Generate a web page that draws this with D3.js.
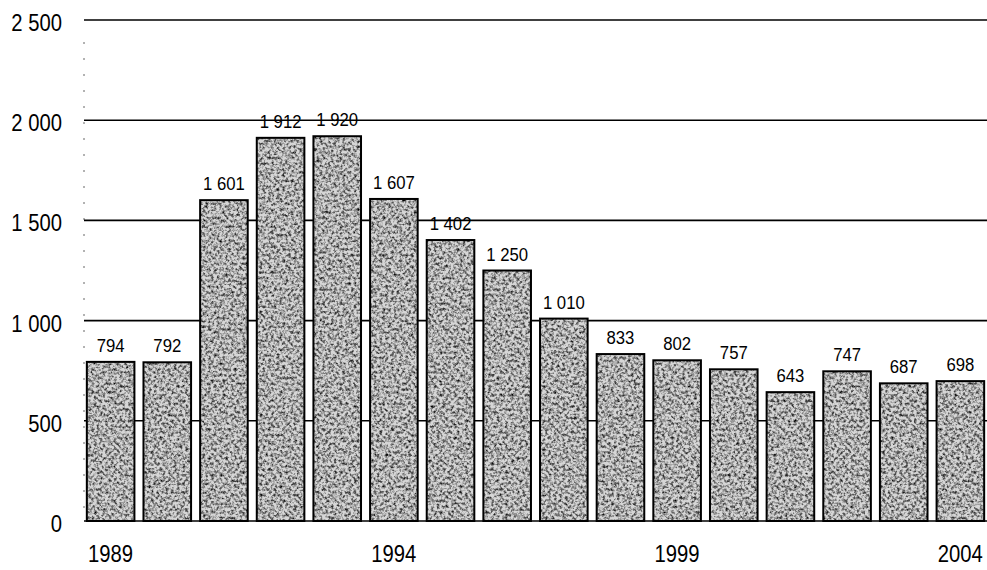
<!DOCTYPE html>
<html>
<head>
<meta charset="utf-8">
<script src="https://cdn.jsdelivr.net/npm/d3@7"></script>
<style>
  body { margin: 0; background: #fff; }
  text { font-family: "Liberation Sans", Arial, sans-serif; fill: #000; }
</style>
</head>
<body>
<div id="chart"></div>
<script>
"use strict"
// data
var years = ["1989","1990","1991","1992","1993","1994","1995","1996","1997","1998","1999","2000","2001","2002","2003","2004"];
var values = [794, 792, 1601, 1912, 1920, 1607, 1402, 1250, 1010, 833, 802, 757, 643, 747, 687, 698];
var yTicks = [0, 500, 1000, 1500, 2000, 2500];
var shownYears = ["1989","1994","1999","2004"];

function fmt(v) {
    // space as thousands separator
    return String(v).replace(/\B(?=(\d{3})+(?!\d))/g, " ");
}

var fullWidth = 987, fullHeight = 570;
var plotLeft = 84, plotRight = 987, plotTop = 20, plotBottom = 521;
var narrow = 0.88; // squeeze text a little, the original font is condensed

var svg = d3.select("#chart").append("svg")
    .attr("width", fullWidth).attr("height", fullHeight);

// grainy grey texture for the bars
var defs = svg.append("defs");
var filt = defs.append("filter").attr("id", "grain")
    .attr("x", 0).attr("y", 0).attr("width", "100%").attr("height", "100%");
filt.append("feTurbulence").attr("type", "fractalNoise")
    .attr("baseFrequency", 0.35).attr("numOctaves", 4).attr("seed", 7).attr("result", "noise");
filt.append("feColorMatrix").attr("in", "noise").attr("type", "matrix")
    .attr("values", "0 0 0 0 0  0 0 0 0 0  0 0 0 0 0  -2.0 0 0 0 1.2")
    .attr("result", "dots");
filt.append("feComposite").attr("in", "dots").attr("in2", "SourceGraphic").attr("operator", "in");

var x = d3.scaleBand().domain(years).range([plotLeft, plotRight]).paddingInner(0.16).paddingOuter(0.05);
var y = d3.scaleLinear().domain([0, 2500]).range([plotBottom, plotTop]);

// dotted left edge
svg.append("line")
    .attr("x1", plotLeft).attr("x2", plotLeft).attr("y1", y(2500) + 22).attr("y2", plotBottom)
    .attr("stroke", "#666").attr("stroke-width", 1).attr("stroke-dasharray", "2,14");

// gridlines
svg.append("g").selectAll("line").data(yTicks).enter().append("line")
    .attr("x1", plotLeft).attr("x2", plotRight)
    .attr("y1", d => y(d)).attr("y2", d => y(d))
    .attr("stroke", "#000").attr("stroke-width", 1.6);

// y labels
svg.append("g").selectAll("text").data(yTicks).enter().append("text")
    .attr("transform", d => "translate(62," + (y(d) + 11) + ") scale(" + narrow + ",1)")
    .attr("text-anchor", "end").attr("font-size", 23)
    .text(d => fmt(d));

var bars = svg.append("g");
bars.selectAll("rect.base").data(values).enter().append("rect")
    .attr("class", "base")
    .attr("x", (d, i) => x(years[i])).attr("width", x.bandwidth())
    .attr("y", d => y(d)).attr("height", d => y(0) - y(d))
    .attr("fill", "#d6d6d6");
bars.selectAll("rect.grain").data(values).enter().append("rect")
    .attr("class", "grain")
    .attr("x", (d, i) => x(years[i])).attr("width", x.bandwidth())
    .attr("y", d => y(d)).attr("height", d => y(0) - y(d))
    .attr("fill", "#333").attr("filter", "url(#grain)");
bars.selectAll("rect.edge").data(values).enter().append("rect")
    .attr("class", "edge")
    .attr("x", (d, i) => x(years[i])).attr("width", x.bandwidth())
    .attr("y", d => y(d)).attr("height", d => y(0) - y(d))
    .attr("fill", "none").attr("stroke", "#000").attr("stroke-width", 2);

// value labels
svg.append("g").selectAll("text").data(values).enter().append("text")
    .attr("transform", (d, i) => "translate(" + (x(years[i]) + x.bandwidth() / 2) + "," + (y(d) - 10) + ") scale(" + narrow + ",1)")
    .attr("text-anchor", "middle").attr("font-size", 19)
    .text(d => fmt(d));

// x labels
svg.append("g").selectAll("text").data(shownYears).enter().append("text")
    .attr("transform", d => "translate(" + (x(d) + x.bandwidth() / 2) + ",562) scale(" + narrow + ",1)")
    .attr("text-anchor", "middle").attr("font-size", 23)
    .text(d => d);
</script>
</body>
</html>
